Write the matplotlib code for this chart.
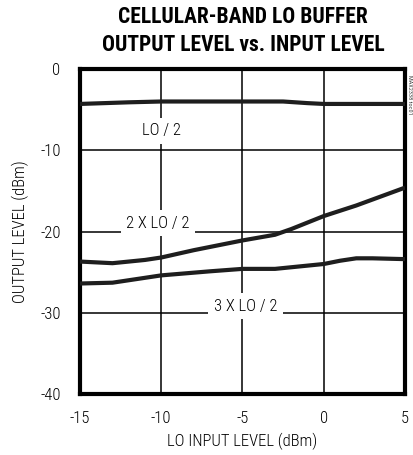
import matplotlib.pyplot as plt
from matplotlib import font_manager

names = {f.name for f in font_manager.fontManager.ttflist}
prefs = ['Roboto Condensed', 'Archivo Narrow', 'Barlow Semi Condensed', 'Liberation Sans Narrow']
narrow = [n for n in prefs if n in names][:1]
plt.rcParams['font.family'] = narrow + ['DejaVu Sans']
plt.rcParams['axes.unicode_minus'] = False

# data
x_lo = [-15, -12, -10, -7, -5, -2.5, -1, 0, 2, 5]
y_lo = [-4.3, -4.1, -4.0, -4.0, -4.0, -4.0, -4.2, -4.3, -4.3, -4.3]

x_2x = [-15, -13, -11, -10, -8, -5, -3, -2, 0, 2, 5]
y_2x = [-23.7, -23.9, -23.5, -23.2, -22.3, -21.1, -20.4, -19.7, -18.1, -16.8, -14.6]

x_3x = [-15, -13, -11, -10, -7, -5, -3, -1, 0, 1, 2, 3, 5]
y_3x = [-26.4, -26.3, -25.7, -25.4, -24.9, -24.6, -24.6, -24.2, -24.0, -23.6, -23.3, -23.3, -23.4]

xticks = [-15, -10, -5, 0, 5]
yticks = [0, -10, -20, -30, -40]

fig = plt.figure(figsize=(4.14, 4.55), dpi=100)
ax = fig.add_axes([80 / 414, 1 - 394 / 455, 325 / 414, 325 / 455])

ax.set_xlim(-15, 5)
ax.set_ylim(-40, 0)
ax.set_xticks(xticks)
ax.set_yticks(yticks)
ax.tick_params(axis='x', length=0, labelsize=12, pad=12)
ax.tick_params(axis='y', length=0, labelsize=12, pad=14)
ax.grid(True, color='black', linewidth=1.1)
ax.set_axisbelow(True)
for s in ax.spines.values():
    s.set_linewidth(3)

lw = 3
ax.plot(x_lo, y_lo, color='#1e1e1e', lw=lw, solid_capstyle='butt', zorder=3)
ax.plot(x_2x, y_2x, color='#1e1e1e', lw=lw, solid_capstyle='butt', zorder=3)
ax.plot(x_3x, y_3x, color='#1e1e1e', lw=lw, solid_capstyle='butt', zorder=3)

box = dict(facecolor='white', edgecolor='none', pad=4)
ax.text(-10, -7.6, 'LO / 2', ha='center', va='center', fontsize=12, fontweight='light', bbox=box, zorder=4)
ax.text(-10.2, -19.0, '2 X LO / 2', ha='center', va='center', fontsize=12, fontweight='light', bbox=box, zorder=4)
ax.text(-4.8, -29.2, '3 X LO / 2', ha='center', va='center', fontsize=12, fontweight='light', bbox=box, zorder=4)
for t in ax.get_xticklabels() + ax.get_yticklabels():
    t.set_fontweight('light')

ax.set_xlabel('LO INPUT LEVEL (dBm)', fontsize=12, fontweight='light', labelpad=5)
ax.set_ylabel('OUTPUT LEVEL (dBm)', fontsize=12, fontweight='light', labelpad=8)

fig.text(243 / 414, 1 - 31 / 455, 'CELLULAR-BAND LO BUFFER\nOUTPUT LEVEL vs. INPUT LEVEL',
         ha='center', va='center', fontsize=15.5, fontweight='black', linespacing=1.3)
fig.text(410 / 414, 1 - 95 / 455, 'MAX2338 toc01', rotation=270, ha='center', va='center',
         fontsize=4.5, color='#444444')

fig.savefig('out.png', dpi=100)
